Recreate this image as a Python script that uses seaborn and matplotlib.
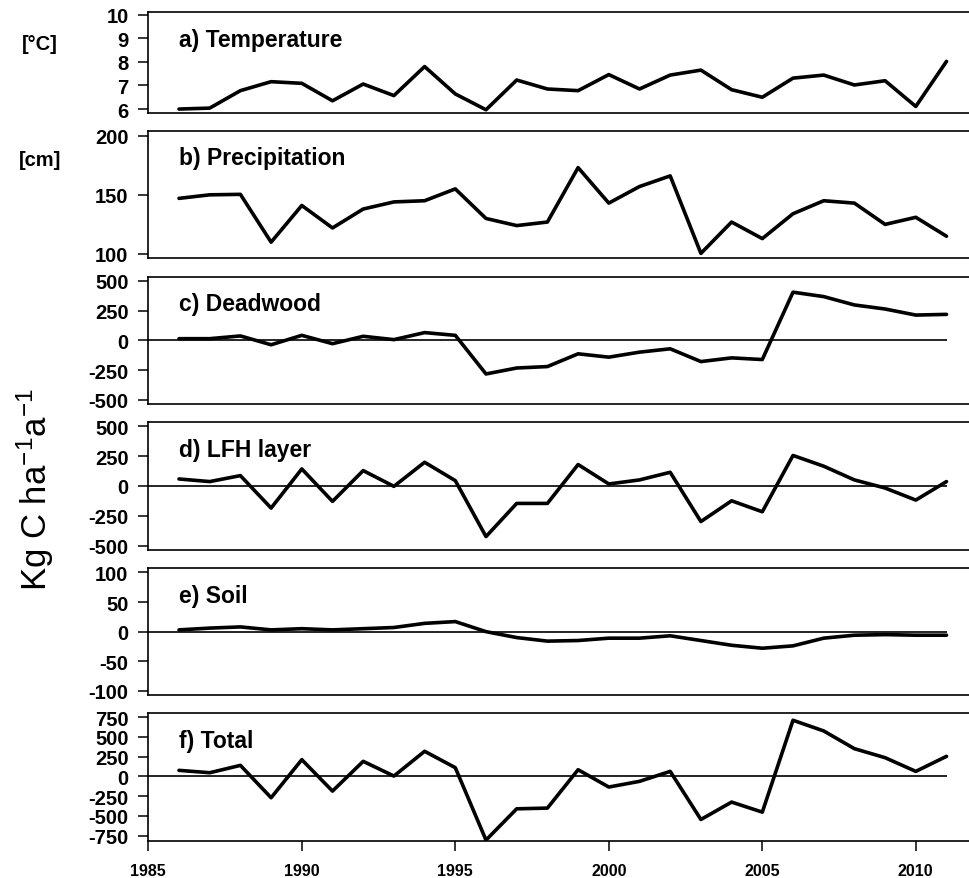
import numpy as np
import pandas as pd
import matplotlib
matplotlib.use("Agg")
import matplotlib.pyplot as plt
import seaborn as sns

years = list(range(1986, 2012))

temperature = [6.00, 6.04, 6.78, 7.16, 7.09, 6.35, 7.06, 6.57, 7.80, 6.64, 5.97, 7.23, 6.85,
               6.78, 7.46, 6.85, 7.44, 7.65, 6.82, 6.50, 7.31, 7.44, 7.02, 7.20, 6.11, 8.02]
precipitation = [147, 150, 150.4, 110, 141, 122, 138, 144, 145, 155, 130, 124, 127,
                 173, 143, 157, 166, 100.5, 127, 113, 134, 145, 143, 125, 131, 115]
deadwood = [14, 14, 37, -37, 42, -28, 34, 6, 65, 42, -282, -232, -220,
            -113, -141, -99, -71, -178, -147, -161, 404, 367, 297, 263, 212, 218]
lfh = [59, 37, 87, -185, 143, -129, 129, -3, 199, 45, -424, -146, -146,
       180, 17, 51, 115, -298, -124, -216, 256, 166, 51, -17, -118, 37]
soil = [3, 6, 8, 3, 5, 3, 5, 7, 14, 17, 0, -10, -16,
        -15, -11, -11, -7, -15, -23, -28, -24, -11, -6, -5, -6, -6]
total = [76, 46, 139, -270, 211, -186, 190, 4, 317, 110, -805, -410, -401,
         84, -135, -63, 63, -545, -325, -452, 709, 574, 350, 236, 63, 253]

panel_titles = ["a) Temperature", "b) Precipitation", "c) Deadwood",
                "d) LFH layer", "e) Soil", "f) Total"]
series_names = ["temperature", "precipitation", "deadwood", "lfh", "soil", "total"]
ylims = [(5.82, 10.1), (96.6, 204.2), (-534, 534), (-534, 534), (-107, 107), (-813, 797)]
yticks = [[6, 7, 8, 9, 10], [100, 150, 200], [-500, -250, 0, 250, 500],
          [-500, -250, 0, 250, 500], [-100, -50, 0, 50, 100],
          [-750, -500, -250, 0, 250, 500, 750]]
zero_line = [False, False, True, True, True, True]
xticks = [1985, 1990, 1995, 2000, 2005, 2010]

df = pd.DataFrame({"year": years, "temperature": temperature,
                   "precipitation": precipitation, "deadwood": deadwood,
                   "lfh": lfh, "soil": soil, "total": total})

sns.set_theme(style="ticks")
plt.rcParams["font.family"] = ["Liberation Sans", "DejaVu Sans"]
plt.rcParams["mathtext.fontset"] = "custom"
plt.rcParams["mathtext.rm"] = "Liberation Sans"
plt.rcParams["mathtext.default"] = "regular"
plt.rcParams["text.color"] = "black"
plt.rcParams["axes.labelcolor"] = "black"
plt.rcParams["xtick.color"] = "black"
plt.rcParams["ytick.color"] = "black"

W, H = 969, 879
fig = plt.figure(figsize=(W / 100, H / 100), dpi=100)

# pixel extents (top, bottom) of each panel
extents = [(13.3, 114.3), (131.7, 259.0), (277.7, 405.0),
           (423.3, 550.7), (569.3, 696.0), (714.3, 841.7)]
x_left_px, x_right_px = 148.3, 975.0
px_per_year = 30.7
xlim = (1985, 1985 + (x_right_px - x_left_px) / px_per_year)

axes = []
for i, (top, bot) in enumerate(extents):
    ax = fig.add_axes([x_left_px / W, 1 - bot / H, (x_right_px - x_left_px) / W, (bot - top) / H])
    axes.append(ax)
    sns.lineplot(data=df, x="year", y=series_names[i], ax=ax, color="black",
                 linewidth=2.6, legend=False)
    if zero_line[i]:
        ax.hlines(0, xlim[0], years[-1], color="black", linewidth=1.2, zorder=1)
    ax.set_xlim(*xlim)
    ax.set_ylim(*ylims[i])
    ax.set_yticks(yticks[i])
    ax.set_yticklabels([str(v) for v in yticks[i]], fontsize=14.5, fontweight="bold")
    ax.set_xlabel("")
    ax.set_ylabel("")
    for s in ["top", "bottom", "left"]:
        ax.spines[s].set_visible(True)
        ax.spines[s].set_linewidth(1.2)
        ax.spines[s].set_color("black")
    ax.spines["right"].set_visible(False)
    ax.tick_params(axis="y", direction="out", length=7.2, width=1.1, pad=7.0,
                   colors="black", labelcolor="black")
    if i < 5:
        ax.set_xticks([])
    else:
        ax.set_xticks(xticks)
        ax.set_xticklabels([str(v) for v in xticks], fontsize=11.5, fontweight="bold")
        ax.tick_params(axis="x", direction="out", length=7.2, width=1.1, pad=9.0,
                       colors="black", labelcolor="black")
    ax.annotate(panel_titles[i], xy=(years[0], 1), xycoords=("data", "axes fraction"),
                xytext=(0, -19.5), textcoords="offset points", ha="left", va="center",
                fontsize=16.5, fontweight="bold", color="black")
    ax.set_facecolor("white")

fig.text(40 / W, 1 - 45 / H, "[°C]", ha="center", va="center", fontsize=14.5,
         fontweight="bold", color="black")
fig.text(40 / W, 1 - 161 / H, "[cm]", ha="center", va="center", fontsize=14.5,
         fontweight="bold", color="black")
fig.text(35 / W, 1 - 490 / H, r"Kg C ha$^{-1}$a$^{-1}$", ha="center", va="center",
         rotation=90, fontsize=25, color="black")

fig.savefig("out.png", dpi=100, facecolor="white")
